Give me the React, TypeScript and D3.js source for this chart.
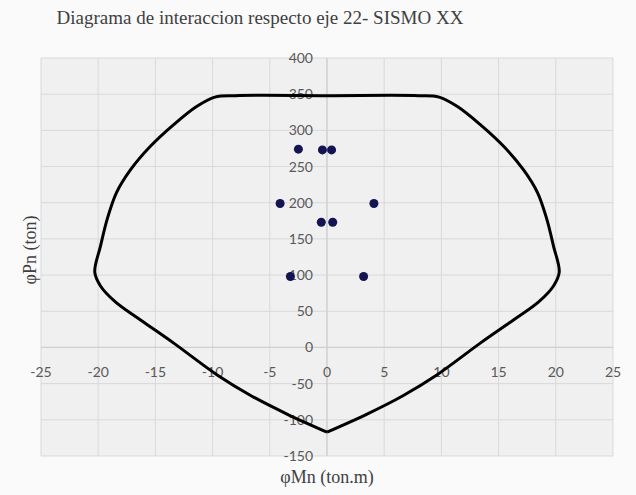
import React from "react";
import { scaleLinear, line, curveCatmullRom, range } from "d3";

// interaction curve (Mn in ton.m, Pn in ton), from bottom point round the loop
const curveMn = [
  0, -3.5, -6.6, -9.6, -13.4, -16.3, -18.5, -19.8, -20.3, -19.8, -19.2, -18.4, -17.2, -15.5, -13.4, -11.4, -9.8, -8,
  0,
  8, 9.8, 11.4, 13.4, 15.5, 17.2, 18.4, 19.2, 19.8, 20.3, 19.8, 18.5, 16.3, 13.4, 9.6, 6.6, 3.5, 0,
];
const curvePn = [
  -117, -92, -67, -38, 6, 38, 63, 85, 104, 140, 178, 214, 245, 277, 308, 333, 346, 348,
  348,
  348, 346, 333, 308, 277, 245, 214, 178, 140, 104, 85, 63, 38, 6, -38, -67, -92, -117,
];

// load combinations (SISMO XX)
const pointMn = [-2.5, -0.4, 0.4, -4.1, 4.1, -0.5, 0.5, -3.2, 3.2];
const pointPn = [274, 273, 273, 199, 199, 173, 173, 98, 98];

const xTicks = [-25, -20, -15, -10, -5, 0, 5, 10, 15, 20, 25];
const yTicks = [-150, -100, -50, 0, 50, 100, 150, 200, 250, 300, 350, 400];

const W = 636;
const H = 495;

export default function App() {
  const x = scaleLinear().domain([-25, 25]).range([41, 613]);
  const y = scaleLinear().domain([-150, 400]).range([456, 58]);

  const curveData = range(curveMn.length).map((i) => [curveMn[i], curvePn[i]] as [number, number]);
  const path = line<[number, number]>()
    .x((d) => x(d[0]))
    .y((d) => y(d[1]))
    .curve(curveCatmullRom.alpha(0.5))(curveData);

  const tickFont = "Lato, 'Open Sans', sans-serif";
  const serif = "'Liberation Serif', 'DejaVu Serif', serif";

  return (
    <svg width={W} height={H} style={{ position: "absolute", left: 0, top: 0, background: "#fafafa" }}>
      {/* plot area */}
      <rect x={x(-25)} y={y(400)} width={x(25) - x(-25)} height={y(-150) - y(400)} fill="#f0f0f0" />

      {/* gridlines */}
      {xTicks.map((t) => (
        <line key={"gx" + t} x1={x(t)} x2={x(t)} y1={y(400)} y2={y(-150)} stroke="#d9d9d9" strokeWidth={1} />
      ))}
      {yTicks.map((t) => (
        <line key={"gy" + t} x1={x(-25)} x2={x(25)} y1={y(t)} y2={y(t)} stroke="#d9d9d9" strokeWidth={1} />
      ))}
      <line x1={x(-25)} x2={x(25)} y1={y(0)} y2={y(0)} stroke="#cfcfcf" strokeWidth={1.2} />
      <line x1={x(0)} x2={x(0)} y1={y(400)} y2={y(-150)} stroke="#cfcfcf" strokeWidth={1.2} />

      {/* tick labels */}
      {xTicks.map((t) => (
        <text key={"tx" + t} x={x(t)} y={y(0) + 30} textAnchor="middle" fontFamily={tickFont} fontSize={14} fill="#595959">
          {t}
        </text>
      ))}
      {yTicks.map((t) => (
        <text key={"ty" + t} x={x(0) - 14} y={y(t) + 5} textAnchor="end" fontFamily={tickFont} fontSize={14} fill="#595959">
          {t}
        </text>
      ))}

      {/* interaction curve */}
      <path d={path ?? ""} fill="none" stroke="#000" strokeWidth={3} strokeLinejoin="round" />

      {/* demand points */}
      {pointMn.map((m, i) => (
        <circle key={"p" + i} cx={x(m)} cy={y(pointPn[i])} r={4.5} fill="#141452" />
      ))}

      {/* titles */}
      <text x={260} y={24} textAnchor="middle" fontFamily={serif} fontSize={19} fill="#404040">
        Diagrama de interaccion respecto eje 22- SISMO XX
      </text>
      <text x={x(0)} y={483} textAnchor="middle" fontFamily={serif} fontSize={18} fill="#404040">
        φMn (ton.m)
      </text>
      <text transform={`translate(36,250) rotate(-90)`} textAnchor="middle" fontFamily={serif} fontSize={18} fill="#404040">
        φPn (ton)
      </text>
    </svg>
  );
}
